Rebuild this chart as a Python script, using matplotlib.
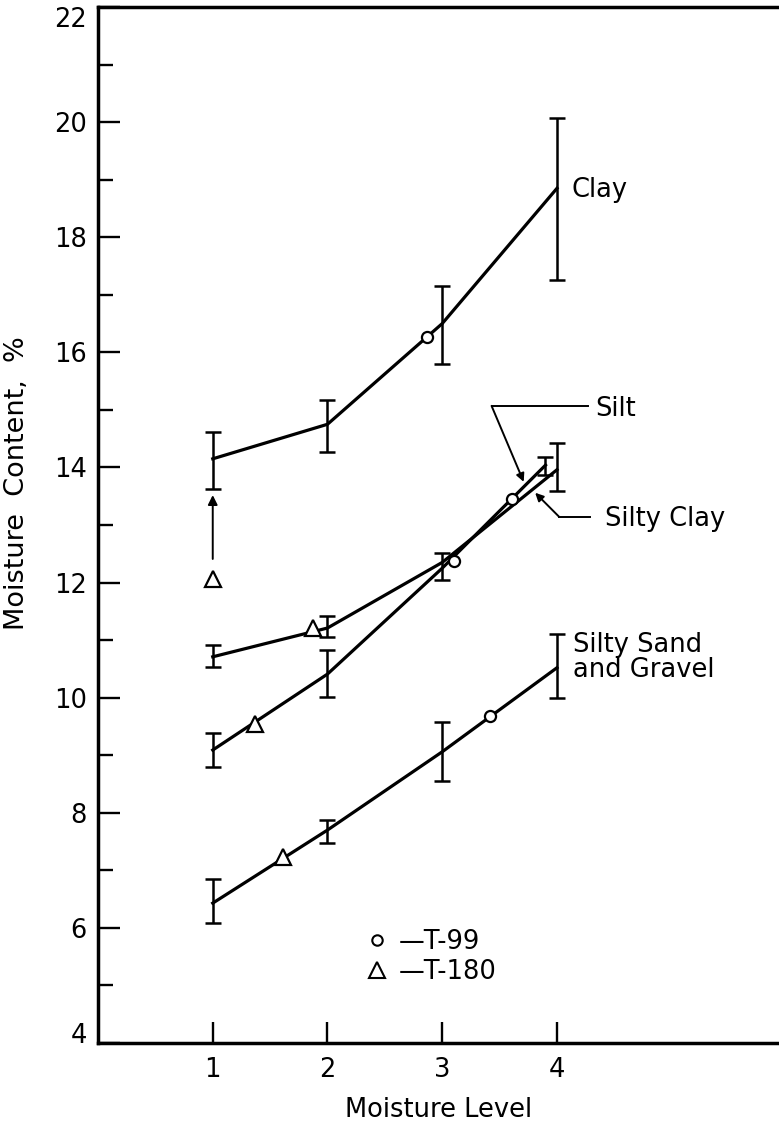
import matplotlib
matplotlib.use("Agg")
import matplotlib.pyplot as plt
from matplotlib.lines import Line2D

plt.rcParams['font.family'] = ['DejaVu Sans']

# ---- data -------------------------------------------------------------
levels = [1, 2, 3, 4]

clay_y = [14.15, 14.75, 16.5, 18.85]
clay_lo = [13.62, 14.27, 15.79, 17.25]
clay_hi = [14.61, 15.18, 17.16, 20.07]

silty_clay_x = [1, 2, 3, 4]
silty_clay_y = [10.71, 11.21, 12.35, 13.96]
silty_clay_lo = [10.53, 11.05, 12.05, 13.59]
silty_clay_hi = [10.91, 11.42, 12.52, 14.42]

silt_x = [1, 2, 3, 3.9]
silt_y = [9.09, 10.41, 12.25, 14.04]
silt_lo = [8.79, 10.01, None, 13.87]
silt_hi = [9.39, 10.83, None, 14.18]

sand_y = [6.43, 7.70, 9.06, 10.52]
sand_lo = [6.08, 7.47, 8.55, 9.99]
sand_hi = [6.85, 7.87, 9.58, 11.11]

# compaction test points
t99_x = [2.87, 3.10, 3.61, 3.415]
t99_y = [16.27, 12.38, 13.45, 9.68]
t180_x = [1.0, 1.87, 1.37, 1.61]
t180_y = [12.06, 11.21, 9.55, 7.23]

y_ticks = [4, 6, 8, 10, 12, 14, 16, 18, 20, 22]
y_minor = [5, 7, 9, 11, 13, 15, 17, 19, 21]
x_ticks = [1, 2, 3, 4]

# ---- figure -----------------------------------------------------------
W, H = 779, 1125
fig = plt.figure(figsize=(W / 100, H / 100), dpi=100)
ax = fig.add_axes([98 / W, 82 / H, 1 - 98 / W, 1036 / H])
ax.set_xlim(0, 5.935)
ax.set_ylim(4, 22)

FS = 18.5
LINE = dict(color='black', lw=2.3, solid_joinstyle='round')
EB = dict(fmt='none', ecolor='black', elinewidth=1.8, capsize=5.5, capthick=1.8)


def draw_series(x, y, lo, hi):
    ax.plot(x, y, **LINE)
    xs, ys, el, eh = [], [], [], []
    for xi, yi, l, h in zip(x, y, lo, hi):
        if l is None:
            continue
        xs.append(xi); ys.append(yi); el.append(yi - l); eh.append(h - yi)
    ax.errorbar(xs, ys, yerr=[el, eh], **EB)


draw_series(levels, clay_y, clay_lo, clay_hi)
draw_series(silty_clay_x, silty_clay_y, silty_clay_lo, silty_clay_hi)
draw_series(silt_x, silt_y, silt_lo, silt_hi)
draw_series(levels, sand_y, sand_lo, sand_hi)

ax.plot(t99_x, t99_y, ls='none', marker='o', ms=8, mfc='white', mec='black', mew=1.6, zorder=5)
ax.plot(t180_x, t180_y, ls='none', marker='^', ms=12, mfc='white', mec='black', mew=1.6, zorder=5)

# arrow from the T-180 clay point up to the level-1 bar
ax.annotate('', xy=(1, 13.52), xytext=(1, 12.41),
            arrowprops=dict(arrowstyle='-|>', color='black', lw=1.4,
                            mutation_scale=14, shrinkA=0, shrinkB=0))

# curve labels
ax.text(4.13, 18.82, 'Clay', fontsize=FS, va='center', ha='left')
ax.text(4.14, 10.70, 'Silty Sand\nand Gravel', fontsize=FS, va='center', ha='left',
        linespacing=0.92)

# leader for Silt
ax.plot([3.43, 4.27], [15.07, 15.07], color='black', lw=1.4)
ax.annotate('', xy=(3.71, 13.75), xytext=(3.43, 15.07),
            arrowprops=dict(arrowstyle='-|>', color='black', lw=1.4,
                            mutation_scale=12, shrinkA=0, shrinkB=0))
ax.text(4.33, 15.02, 'Silt', fontsize=FS, va='center', ha='left')

# leader for Silty Clay
ax.plot([4.02, 4.29], [13.14, 13.14], color='black', lw=1.4)
ax.annotate('', xy=(3.81, 13.56), xytext=(4.02, 13.14),
            arrowprops=dict(arrowstyle='-|>', color='black', lw=1.4,
                            mutation_scale=12, shrinkA=0, shrinkB=0))
ax.text(4.42, 13.10, 'Silty Clay', fontsize=FS, va='center', ha='left')

# legend
handles = [
    Line2D([], [], ls='none', marker='o', ms=7.5, mfc='white', mec='black', mew=1.5),
    Line2D([], [], ls='none', marker='^', ms=11, mfc='white', mec='black', mew=1.5),
]
ax.legend(handles, ['\u2014T-99', '\u2014T-180'], loc='center left',
          bbox_to_anchor=(0.393, 0.083), frameon=False, fontsize=FS,
          handlelength=0.9, handletextpad=0.4, labelspacing=0.12, borderpad=0,
          borderaxespad=0)

# axes styling
for side in ('left', 'bottom', 'top'):
    ax.spines[side].set_linewidth(2.5)
ax.spines['right'].set_visible(False)

ax.set_yticks(y_ticks)
ax.set_yticks(y_minor, minor=True)
ax.set_xticks(x_ticks)
ax.set_xticks([], minor=True)
ax.tick_params(axis='y', which='major', direction='in', length=16, width=1.7,
               labelsize=FS, pad=8)
ax.tick_params(axis='y', which='minor', direction='in', length=11, width=1.7)
ax.tick_params(axis='x', which='major', direction='in', length=15, width=1.7,
               labelsize=FS, pad=10)

# end labels sit inside the axis span
ylabels = ax.get_yticklabels()
ylabels[-1].set_verticalalignment('top')
ylabels[0].set_verticalalignment('baseline')

ax.set_xlabel('Moisture Level', fontsize=FS)
ax.xaxis.set_label_coords(0.5, -0.052)
ax.xaxis.label.set_va('top')
ax.set_ylabel('Moisture  Content,  %', fontsize=19.5)
ax.yaxis.set_label_coords(-0.100, 0.54)

fig.savefig('out.png', dpi=100)
